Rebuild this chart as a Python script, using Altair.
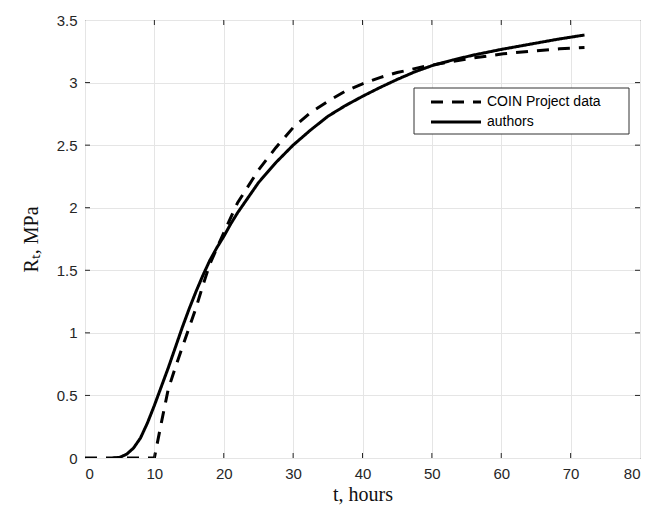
import altair as alt
import pandas as pd

# COIN Project data (dashed)
coin_t = [0, 10, 11, 12, 13, 14, 15, 16, 17, 18, 20, 22, 25, 27.5, 30, 32.5, 35, 37.5, 40, 42.5, 45, 49, 52.6, 56.4, 60.3, 64.1, 68.4, 72]
coin_r = [0, 0, 0.28, 0.55, 0.72, 0.88, 1.04, 1.20, 1.38, 1.55, 1.80, 2.04, 2.30, 2.48, 2.64, 2.76, 2.85, 2.93, 2.99, 3.04, 3.08, 3.13, 3.165, 3.20, 3.23, 3.25, 3.27, 3.28]

# authors (solid)
auth_t = [4, 5, 6, 7, 8, 9, 10, 11, 12, 13, 14, 15, 16, 17, 18, 19, 20, 21, 22, 23, 25, 27.5, 30, 32.5, 35, 37.5, 40, 42.5, 45, 47.5, 50, 53, 56, 60, 64, 68, 72]
auth_r = [0, 0.005, 0.03, 0.08, 0.16, 0.28, 0.42, 0.57, 0.72, 0.88, 1.04, 1.19, 1.33, 1.46, 1.58, 1.68, 1.77, 1.87, 1.96, 2.04, 2.20, 2.36, 2.50, 2.62, 2.73, 2.815, 2.89, 2.96, 3.025, 3.085, 3.135, 3.18, 3.22, 3.265, 3.305, 3.345, 3.38]

series_names = ["COIN Project data", "authors"]
series_dash = [[12, 9], [1, 0]]
x_ticks = [0, 10, 20, 30, 40, 50, 60, 70, 80]
y_ticks = [0, 0.5, 1, 1.5, 2, 2.5, 3, 3.5]

df = pd.concat([
    pd.DataFrame({"t": coin_t, "R": coin_r, "series": series_names[0], "order": range(len(coin_t))}),
    pd.DataFrame({"t": auth_t, "R": auth_r, "series": series_names[1], "order": range(len(auth_t))}),
])

W, H = 555, 438
tick_color = "#262626"
font = "Liberation Sans"

xscale = alt.Scale(domain=[0, 80], nice=False, zero=False)
yscale = alt.Scale(domain=[0, 3.5], nice=False, zero=False)

lines = alt.Chart(df).mark_line(strokeWidth=3, color="black", clip=True).encode(
    x=alt.X("t:Q", scale=xscale,
            axis=alt.Axis(values=x_ticks, title="t, hours", grid=True, format="d",
                          titleFont="Liberation Serif", titleFontSize=20, titleFontWeight="normal",
                          titleColor="#111", titlePadding=3)),
    y=alt.Y("R:Q", scale=yscale,
            axis=alt.Axis(values=y_ticks, title="Rₜ, MPa", grid=True, format="~g",
                          titleFont="Liberation Serif", titleFontSize=20, titleFontWeight="normal",
                          titleColor="#111", titleX=-44, titleY=H / 2)),
    strokeDash=alt.StrokeDash("series:N",
                              scale=alt.Scale(domain=series_names, range=series_dash),
                              legend=None),
    order="order:Q",
)

tick_df_x = pd.DataFrame({"v": x_ticks[1:-1]})
tick_df_y = pd.DataFrame({"v": y_ticks[1:-1]})

xt_bot = alt.Chart(tick_df_x).mark_rule(color=tick_color, strokeWidth=1).encode(
    x=alt.X("v:Q", scale=xscale), y=alt.value(H), y2=alt.value(H - 5))
xt_top = alt.Chart(tick_df_x).mark_rule(color=tick_color, strokeWidth=1).encode(
    x=alt.X("v:Q", scale=xscale), y=alt.value(0), y2=alt.value(5))
yt_left = alt.Chart(tick_df_y).mark_rule(color=tick_color, strokeWidth=1).encode(
    y=alt.Y("v:Q", scale=yscale), x=alt.value(0), x2=alt.value(5))
yt_right = alt.Chart(tick_df_y).mark_rule(color=tick_color, strokeWidth=1).encode(
    y=alt.Y("v:Q", scale=yscale), x=alt.value(W), x2=alt.value(W - 5))

# legend box (manual, MATLAB style)
LX0, LX1, LY0, LY1 = 329, 544, 68, 114
leg_box = alt.Chart(pd.DataFrame({"k": [0]})).mark_rect(
    fill="white", stroke="#333", strokeWidth=1).encode(
    x=alt.value(LX0), x2=alt.value(LX1), y=alt.value(LY0), y2=alt.value(LY1))

leg_layers = [leg_box]
for i, name in enumerate(series_names):
    ry = 82 + 20 * i
    ld = pd.DataFrame({"label": [name]})
    leg_layers.append(alt.Chart(ld).mark_rule(
        color="black", strokeWidth=3, strokeDash=series_dash[i]).encode(
        x=alt.value(346), x2=alt.value(396), y=alt.value(ry)))
    leg_layers.append(alt.Chart(ld).mark_text(
        align="left", baseline="middle", font=font, fontSize=14, color="black").encode(
        x=alt.value(402), y=alt.value(ry), text="label:N"))

chart = alt.layer(lines, xt_bot, xt_top, yt_left, yt_right, *leg_layers).properties(
    width=W, height=H,
    autosize="none",
    padding={"left": 77, "top": 12, "right": 2, "bottom": 50},
).configure_view(
    stroke="#262626", strokeWidth=1
).configure_axis(
    domain=False, ticks=False,
    gridColor="#e5e5e5", gridWidth=1,
    labelFont=font, labelFontSize=15, labelColor=tick_color, labelPadding=8,
)

chart.save("out.html", embed_options={"renderer": "svg", "actions": False})
